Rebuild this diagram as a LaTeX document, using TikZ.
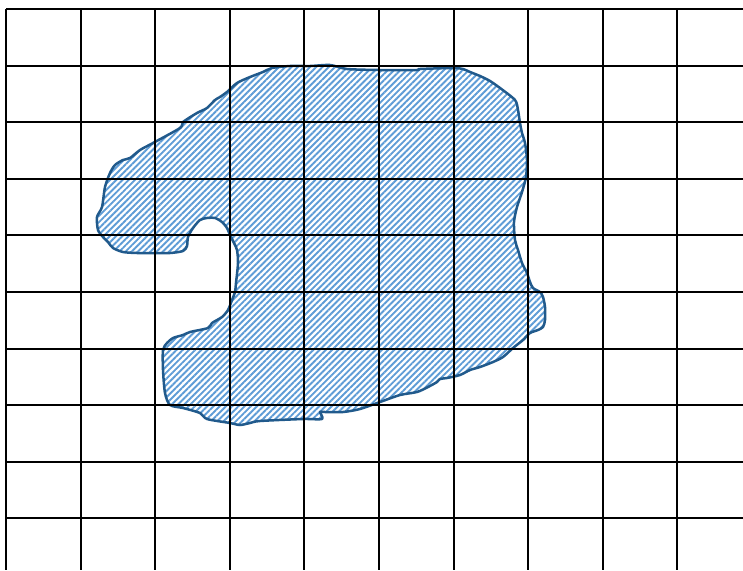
\documentclass[tikz,border=0pt]{standalone}
\usetikzlibrary{patterns.meta}
\definecolor{hatchblue}{HTML}{5E9CD6}
\definecolor{rimblue}{HTML}{215A8C}
\begin{document}
\begin{tikzpicture}[x=1pt, y=-1pt]
        \useasboundingbox (0,0) rectangle (743,570);

        % Blob (hatched region)
        \draw[draw=rimblue, line width=2.5pt, line join=round,
              pattern={Lines[angle=45, distance=4.4pt, line width=1.9pt]}, pattern color=hatchblue]
          plot[smooth cycle, tension=0.45] coordinates {
            (272,68) (290,66) (310,66) (330,65) (347,69) (380,70) (417,70) (420,69) (453,68) (463,69)
            (470,72) (480,76) (490,81) (500,88) (515,100) (518,110) (520,123) (522,133) (525,143) (527,160)
            (526,177) (522,192) (517,207) (514,222) (515,240) (518,250) (522,263) (527,273) (530,282) (533,288)
            (540,292) (543,297) (545,307) (545,320) (543,327) (538,330) (530,333) (523,340) (513,348) (503,357)
            (493,362) (480,367) (470,370) (460,375) (447,378) (440,379) (437,382) (428,387) (417,392) (400,395)
            (380,402) (360,409) (343,412) (325,412) (320,412) (322,419) (303,419) (260,421) (250,423) (240,425)
            (230,423) (207,419) (200,413) (183,408) (170,405) (165,393) (163,370) (163,350) (167,343) (173,338)
            (183,335) (190,332) (208,328) (212,323) (222,317) (228,310) (232,300) (235,292) (236,283) (238,263)
            (237,250) (234,243) (230,235) (227,228) (222,222) (215,218) (207,218) (200,220) (193,228) (188,237)
            (187,246) (183,251) (170,253) (153,253) (137,253) (123,252) (113,248) (108,242) (103,237) (98,230)
            (97,217) (102,207) (105,187) (110,173) (115,165) (123,160) (130,158) (140,150) (153,143) (180,128)
            (183,122) (197,113) (207,108) (215,100) (220,97) (227,92) (237,83) (250,77) (263,72)};

        % Grid
        \foreach \i in {0,...,9}
          \draw[line width=2pt] ({6+74.6*\i},9) -- ({6+74.6*\i},570);
        \foreach \j in {0,...,9}
          \draw[line width=2pt] (6,{9+56.6*\j}) -- (743,{9+56.6*\j});

\end{tikzpicture}
\end{document}
